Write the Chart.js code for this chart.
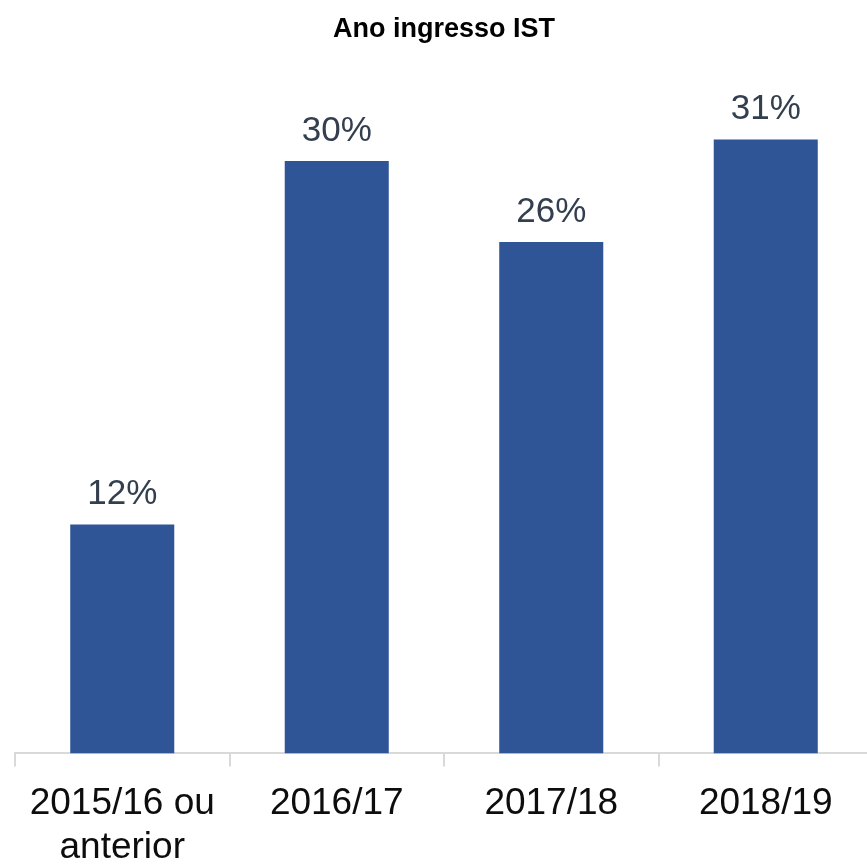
<!DOCTYPE html>
<html>
<head>
<meta charset="utf-8">
<script src="https://cdn.jsdelivr.net/npm/chart.js@4"></script>
<style>
  html, body { margin: 0; padding: 0; background: #fff; overflow: hidden; }
  #wrap { width: 880px; height: 885px; }
</style>
</head>
<body>
<div id="wrap"><canvas id="graphique" width="880" height="885"></canvas></div>
<script>
// DONNEES
const categories = [['2015/16 ou', 'anterior'], '2016/17', '2017/18', '2018/19'];
const valeurs = [11.6, 30.0, 25.9, 31.1];
const etiquettes = ['12%', '30%', '26%', '31%'];
const titre = 'Ano ingresso IST';

// plugin maison pour les etiquettes au dessus des barres
const etiquettesPlugin = {
    id: 'etiquettesBarres',
    afterDatasetsDraw(chart) {
        const ctx = chart.ctx;
        const meta = chart.getDatasetMeta(0);
        ctx.save();
        ctx.font = '35px "Liberation Sans", Arial, sans-serif';
        ctx.fillStyle = '#333F4F';
        ctx.textAlign = 'center';
        ctx.textBaseline = 'alphabetic';
        meta.data.forEach((bar, i) => {
            ctx.fillText(etiquettes[i], bar.x, bar.y - 20);
        });
        ctx.restore();
    }
};

const graph = document.getElementById('graphique');

new Chart(graph, {
    type: 'bar',
    data: {
        labels: categories,
        datasets: [{
            data: valeurs,
            backgroundColor: '#2F5597',
            borderWidth: 0,
            barPercentage: 0.485,
            categoryPercentage: 1.0,
        }]
    },
    options: {
        responsive: false,
        animation: false,
        layout: {
            padding: { left: 15, right: 7, top: 6, bottom: 0 }
        },
        plugins: {
            legend: { display: false },
            tooltip: { enabled: false },
            title: {
                display: true,
                text: titre,
                color: '#000000',
                font: { family: '"Liberation Sans", Arial, sans-serif', size: 27, weight: 'bold' },
                padding: { top: 7, bottom: 17 }
            }
        },
        scales: {
            y: {
                display: false,
                min: 0,
                max: 35,
            },
            x: {
                grid: {
                    display: true,
                    drawOnChartArea: false,
                    drawTicks: true,
                    tickLength: 13,
                    color: '#D9D9D9',
                    lineWidth: 2,
                },
                border: {
                    display: true,
                    color: '#D9D9D9',
                    width: 2,
                },
                ticks: {
                    color: '#0D0D0D',
                    padding: 16,
                    maxRotation: 0,
                    autoSkip: false,
                    font: { family: '"Liberation Sans", Arial, sans-serif', size: 37, lineHeight: 1.17 },
                }
            }
        }
    },
    plugins: [etiquettesPlugin]
});
</script>
</body>
</html>
